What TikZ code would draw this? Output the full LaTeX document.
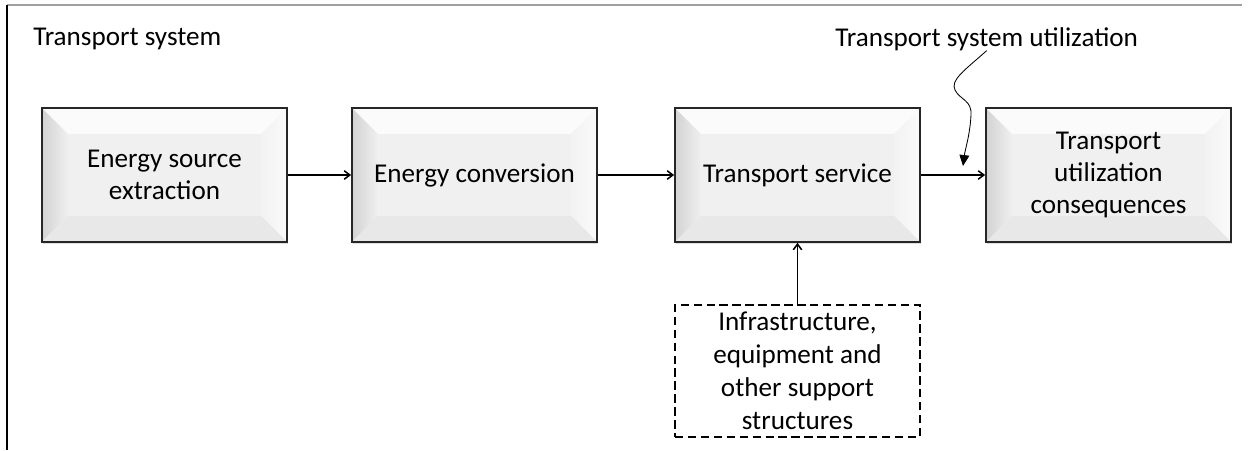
\documentclass[tikz,border=0pt]{standalone}
\usepackage{fontspec}
\setmainfont{Carlito}
\usetikzlibrary{arrows.meta,calc,shadows}

% depth of the bevelled rim
\newcommand{\bevw}{0.65cm}

\begin{document}
\begin{tikzpicture}[x=0.025cm, y=-0.025cm,
    bevbox/.style={draw=black!85, line width=1.2pt, fill=gray!12, minimum width=6.125cm, minimum height=3.35cm,
        inner sep=0pt, align=center, font=\fontsize{19.3}{22.8}\selectfont,
        drop shadow={shadow xshift=0.6pt, shadow yshift=-1.6pt, opacity=0.25},
        path picture={
            \path (path picture bounding box.south west) coordinate (sw)
                  (path picture bounding box.north east) coordinate (ne);
            \fill[gray!3] (sw |- ne) -- (ne) -- ($(ne)+(-\bevw,-\bevw)$) -- ($(sw |- ne)+(\bevw,-\bevw)$) -- cycle;
            \shade[left color=gray!35, right color=gray!12] (sw) -- (sw |- ne) -- ($(sw |- ne)+(\bevw,-\bevw)$) -- ($(sw)+(\bevw,\bevw)$) -- cycle;
            \shade[left color=gray!10, right color=gray!4] (ne) -- (ne |- sw) -- ($(ne |- sw)+(-\bevw,\bevw)$) -- ($(ne)+(-\bevw,-\bevw)$) -- cycle;
            \fill[gray!18] (sw) -- (ne |- sw) -- ($(ne |- sw)+(-\bevw,\bevw)$) -- ($(sw)+(\bevw,\bevw)$) -- cycle;
        }},
    support/.style={draw, dash pattern=on 6pt off 3.2pt, line width=1.1pt, minimum width=6.125cm, minimum height=3.3cm,
        inner sep=0pt, align=center, font=\fontsize{19.3}{23.5}\selectfont},
    title/.style={font=\fontsize{19.3}{22.8}\selectfont, inner sep=0pt, anchor=base west},
    arr/.style={-{Straight Barb[length=4pt,width=6pt]}, line width=1.1pt},
    curvy/.style={-{Triangle[length=7.8pt,width=7pt]}, line width=0.6pt}
]
\useasboundingbox (0,0) rectangle (1250,450);

% frame
\draw[gray!75, line width=1.4pt] (7,5) -- (1242,5);
\draw[line width=1.4pt] (7,5) -- (7,450);

\node[title] (sys)  at (33,45)  {Transport system};
\node[title] (util) at (835,46) {Transport system utilization};

\node[bevbox] (ext)  at (164.5,175)  {Energy source\\extraction};
\node[bevbox] (conv) at (474.5,175)  {Energy conversion};
\node[bevbox] (serv) at (797.5,175)  {Transport service};
\node[bevbox] (cons) at (1108.5,175) {Transport\\utilization\\consequences};

\node[support] (infra) at (797.5,371) {Infrastructure,\\equipment and\\other support\\structures};

\draw[arr] (ext)   -- (conv);
\draw[arr] (conv)  -- (serv);
\draw[arr] (serv)  -- (cons);
\draw[arr] (infra) -- (serv);

\coordinate (hit) at (963,166);
\draw[curvy] (util.south) .. controls (965,70) and (950,80) .. (955,90)
    .. controls (960,100) and (972,100) .. (971,115)
    .. controls (970,135) and (965,150) .. (hit);
\end{tikzpicture}
\end{document}
